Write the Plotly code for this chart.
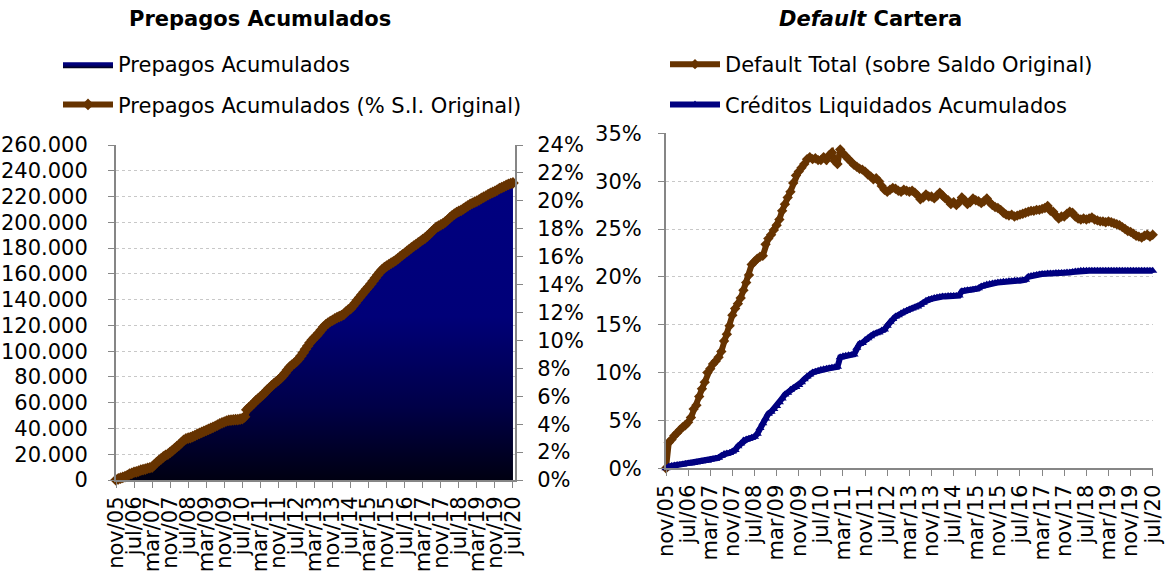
import plotly.graph_objects as go

# ---------------- categories ----------------
MES = ["ene", "feb", "mar", "abr", "may", "jun", "jul", "ago", "sep", "oct", "nov", "dic"]
meses = []
_y, _m = 2005, 11
for _ in range(177):
    meses.append(f"{MES[_m - 1]}/{_y % 100:02d}")
    _m += 1
    if _m > 12:
        _m, _y = 1, _y + 1
tick_labels = meses[::8]

# ---------------- left chart data ----------------
# Prepagos acumulados (miles)
prepagos_miles = [
    0.0, 0.8, 1.5, 2.0, 2.6, 3.5, 4.6, 5.2,
    6.0, 6.3, 6.9, 7.6, 8.0, 8.4, 9.1, 9.5,
    10.0, 11.8, 13.6, 15.0, 16.4, 17.9, 19.2, 20.0,
    21.5, 22.8, 24.4, 25.9, 27.3, 29.0, 30.8, 31.9,
    32.5, 32.9, 33.6, 34.5, 35.4, 36.2, 37.0, 37.8,
    38.5, 39.3, 40.1, 40.9, 41.7, 42.6, 43.5, 44.3,
    45.0, 45.8, 46.3, 46.4, 46.6, 46.8, 46.9, 47.2,
    47.6, 49.0, 54.5, 56.2, 57.8, 59.5, 61.4, 63.0,
    64.5, 66.0, 67.8, 69.7, 71.4, 73.0, 74.7, 76.1,
    77.5, 79.0, 80.9, 83.1, 85.4, 87.6, 89.2, 90.5,
    92.0, 94.0, 96.3, 98.8, 101.5, 104.0, 106.5, 108.6,
    110.5, 112.2, 114.2, 116.5, 118.7, 120.4, 121.8, 123.0,
    124.0, 125.0, 126.0, 126.8, 127.6, 128.5, 130.5, 132.0,
    133.0, 135.0, 137.2, 139.5, 141.6, 143.8, 145.9, 148.0,
    150.0, 152.2, 154.5, 156.8, 159.1, 161.3, 163.2, 164.8,
    166.0, 167.1, 168.3, 169.3, 170.4, 171.8, 173.3, 174.7,
    176.0, 177.4, 178.8, 180.2, 181.5, 182.7, 184.0, 185.3,
    186.5, 187.8, 189.3, 190.9, 192.6, 194.4, 196.0, 197.1,
    198.0, 198.9, 200.3, 201.8, 203.4, 205.0, 206.4, 207.5,
    208.5, 209.3, 210.4, 211.6, 212.8, 213.9, 214.8, 215.7,
    216.5, 217.4, 218.6, 219.5, 220.4, 221.5, 222.4, 223.2,
    224.0, 225.0, 226.1, 226.9, 227.7, 228.6, 229.5, 230.1,
    230.6,
]
saldo_inicial_original = 1_083_333
prepagos = [v * 1000 for v in prepagos_miles]
prepagos_pct = [v / saldo_inicial_original for v in prepagos]

# ---------------- right chart data (%) ----------------
default_total = [
    0.0, 2.7, 3.0, 3.4, 3.7, 4.0, 4.3, 4.5,
    4.8, 5.3, 6.2, 6.6, 7.5, 8.3, 9.0, 10.0,
    10.4, 10.9, 11.2, 11.6, 12.2, 13.3, 14.0, 14.9,
    16.0, 16.7, 17.2, 17.8, 18.6, 19.4, 20.2, 21.3,
    21.6, 21.9, 22.1, 22.2, 23.4, 24.0, 24.4, 24.9,
    25.4, 26.0, 26.9, 27.6, 28.3, 28.9, 29.8, 30.6,
    31.0, 31.4, 31.8, 32.3, 32.5, 32.3, 32.4, 32.2,
    32.2, 32.5, 32.2, 32.7, 33.0, 32.1, 31.8, 33.3,
    32.9, 32.6, 32.3, 32.0, 31.7, 31.5, 31.3, 31.2,
    31.0, 30.7, 30.5, 30.2, 30.3, 30.0, 29.5, 29.1,
    28.9, 29.1, 29.3, 29.2, 29.0, 28.9, 29.1, 29.0,
    28.9, 29.0, 28.8, 28.5, 28.1, 28.3, 28.6, 28.4,
    28.4, 28.2, 28.5, 28.8, 28.5, 28.2, 28.0, 27.6,
    27.8, 27.5, 27.8, 28.3, 28.0, 27.6, 27.8, 28.2,
    28.0, 27.9, 27.7, 27.9, 28.2, 27.8, 27.5, 27.3,
    27.2, 27.0, 26.7, 26.5, 26.4, 26.5, 26.3, 26.4,
    26.5, 26.6, 26.7, 26.8, 26.9, 26.9, 27.0, 27.0,
    27.1, 27.2, 27.4, 26.9, 26.8, 26.4, 26.1, 26.3,
    26.3, 26.6, 26.8, 26.7, 26.3, 26.1, 26.0, 26.1,
    26.0, 26.1, 26.2, 26.0, 25.9, 25.8, 25.8, 25.7,
    25.8, 25.7, 25.6, 25.5, 25.4, 25.2, 25.0, 24.8,
    24.7, 24.5, 24.3, 24.2, 24.1, 24.3, 24.4, 24.2,
    24.4,
]
creditos_liquidados = [
    0.0, 0.2, 0.25, 0.3, 0.35, 0.35, 0.4, 0.45,
    0.5, 0.5, 0.55, 0.6, 0.65, 0.7, 0.75, 0.8,
    0.9, 0.95, 1.0, 1.1, 1.3, 1.5, 1.55, 1.6,
    1.75, 1.9, 2.3, 2.6, 2.9, 3.0, 3.1, 3.2,
    3.3, 3.6, 4.2, 4.7, 5.2, 5.7, 5.9, 6.2,
    6.5, 6.9, 7.3, 7.7, 7.9, 8.2, 8.4, 8.5,
    8.7, 9.0, 9.3, 9.6, 9.8, 10.0, 10.1, 10.2,
    10.3, 10.35, 10.4, 10.45, 10.5, 10.55, 10.6, 11.6,
    11.7, 11.75, 11.8, 11.85, 11.9, 12.6, 13.0, 13.1,
    13.4, 13.6, 13.8, 14.0, 14.1, 14.2, 14.4, 14.5,
    14.9, 15.3, 15.6, 15.85, 16.0, 16.2, 16.35, 16.45,
    16.6, 16.7, 16.8, 16.9, 17.1, 17.3, 17.5, 17.6,
    17.7, 17.8, 17.85, 17.9, 17.95, 17.95, 18.0, 18.0,
    18.0, 18.0, 18.05, 18.5, 18.55, 18.6, 18.6, 18.65,
    18.7, 18.8, 19.0, 19.1, 19.2, 19.25, 19.3, 19.35,
    19.4, 19.45, 19.5, 19.5, 19.55, 19.55, 19.6, 19.6,
    19.6, 19.65, 19.7, 20.0, 20.1, 20.15, 20.2, 20.25,
    20.3, 20.3, 20.35, 20.35, 20.35, 20.4, 20.4, 20.4,
    20.4, 20.45, 20.45, 20.5, 20.55, 20.6, 20.65, 20.65,
    20.65, 20.65, 20.65, 20.65, 20.65, 20.65, 20.65, 20.65,
    20.65, 20.65, 20.65, 20.65, 20.65, 20.65, 20.65, 20.65,
    20.65, 20.65, 20.65, 20.65, 20.65, 20.65, 20.65, 20.65,
    20.65,
]

# ---------------- styling ----------------
W, H = 1168, 572
FONT = "Verdana, 'DejaVu Sans', sans-serif"
BROWN = "#663300"
NAVY = "#000080"
AXIS = "#868686"
GRID = "#c8c8c8"
FS = 21


def px_x(p):
    return p / W


def px_y(p):
    return 1 - p / H


fig = go.Figure()

# left: area
fig.add_trace(go.Scatter(
    x=meses, y=prepagos, name="Prepagos Acumulados",
    mode="lines", line=dict(width=0, color=NAVY), fill="tozeroy",
    fillgradient=dict(type="vertical", start=0, stop=max(prepagos),
                      colorscale=[[0, "#000012"], [0.25, "#000048"],
                                  [0.55, "#000078"], [1, "#000080"]]),
    xaxis="x", yaxis="y", legend="legend", legendgroup="a",
    hoverinfo="skip",
))
# left: pct line
fig.add_trace(go.Scatter(
    x=meses, y=prepagos_pct, name="Prepagos Acumulados (% S.I. Original)",
    mode="lines+markers", line=dict(width=6, color=BROWN),
    marker=dict(symbol="diamond", size=9, color=BROWN),
    xaxis="x", yaxis="y2", legend="legend", legendgroup="b", cliponaxis=False,
))
# right: default
fig.add_trace(go.Scatter(
    x=meses, y=[v / 100 for v in default_total], name="Default Total (sobre Saldo Original)",
    mode="lines+markers", line=dict(width=6, color=BROWN),
    marker=dict(symbol="diamond", size=8, color=BROWN),
    xaxis="x2", yaxis="y3", legend="legend2", legendgroup="c", cliponaxis=False,
))
fig.add_trace(go.Scatter(
    x=meses, y=[v / 100 for v in creditos_liquidados], name="Créditos Liquidados Acumulados",
    mode="lines+markers", line=dict(width=6, color=NAVY),
    marker=dict(symbol="triangle-up", size=8, color=NAVY),
    xaxis="x2", yaxis="y3", legend="legend2", legendgroup="d", cliponaxis=False,
))

xcommon = dict(
    type="category", tickmode="array", tickvals=tick_labels, ticktext=tick_labels,
    tickangle=-90, ticks="outside", ticklen=6, tickcolor=AXIS,
    showline=True, linecolor=AXIS, linewidth=2, showgrid=False,
    tickfont=dict(family=FONT, size=FS, color="black"),
    automargin=False, zeroline=False, fixedrange=True,
)
ycommon = dict(
    ticks="outside", ticklen=6, tickcolor=AXIS, showline=True, linecolor=AXIS,
    linewidth=2, tickfont=dict(family=FONT, size=FS, color="black"),
    automargin=False, zeroline=False, fixedrange=True,
)

fig.update_layout(
    width=W, height=H, margin=dict(l=0, r=0, t=0, b=0),
    paper_bgcolor="white", plot_bgcolor="white",
    separators=",.",
    font=dict(family=FONT, size=FS, color="black"),
    xaxis=dict(xcommon, domain=[px_x(116), px_x(515)], range=[0, 176.9], anchor="y"),
    yaxis=dict(ycommon, domain=[px_y(480), px_y(145)], range=[0, 260000], dtick=20000,
               tickformat=",d", showgrid=True, gridcolor=GRID, griddash="dot",
               gridwidth=1, anchor="x", ticklabelstandoff=16),
    yaxis2=dict(ycommon, overlaying="y", side="right", range=[0, 0.24], dtick=0.02,
                tickformat=".0%", showgrid=False, anchor="x", ticklabelstandoff=10),
    xaxis2=dict(xcommon, domain=[px_x(666), px_x(1153)], range=[0, 176.1], anchor="y3"),
    yaxis3=dict(ycommon, domain=[px_y(468.3), px_y(133.3)], range=[0, 0.35], dtick=0.05,
                tickformat=".0%", showgrid=True, gridcolor=GRID, griddash="dot",
                gridwidth=1, anchor="x2", ticklabelstandoff=12),
    legend=dict(x=px_x(58), y=px_y(44), xanchor="left", yanchor="top",
                bgcolor="rgba(0,0,0,0)", itemwidth=50, tracegroupgap=10,
                font=dict(family=FONT, size=FS, color="black")),
    legend2=dict(x=px_x(665), y=px_y(44), xanchor="left", yanchor="top",
                 bgcolor="rgba(0,0,0,0)", itemwidth=50, tracegroupgap=10,
                 font=dict(family=FONT, size=FS, color="black")),
    annotations=[
        dict(text="<b>Prepagos Acumulados</b>", x=px_x(260), y=px_y(19),
             xref="paper", yref="paper", showarrow=False, xanchor="center", yanchor="middle",
             font=dict(family=FONT, size=FS, color="black")),
        dict(text="<b><i>Default</i> Cartera</b>", x=px_x(870), y=px_y(19),
             xref="paper", yref="paper", showarrow=False, xanchor="center", yanchor="middle",
             font=dict(family=FONT, size=FS, color="black")),
    ],
    showlegend=True,
)

fig.write_html(
    "out.html",
    config={"displayModeBar": False},
    post_script="document.body.style.margin='0';document.body.style.overflow='hidden';",
)
